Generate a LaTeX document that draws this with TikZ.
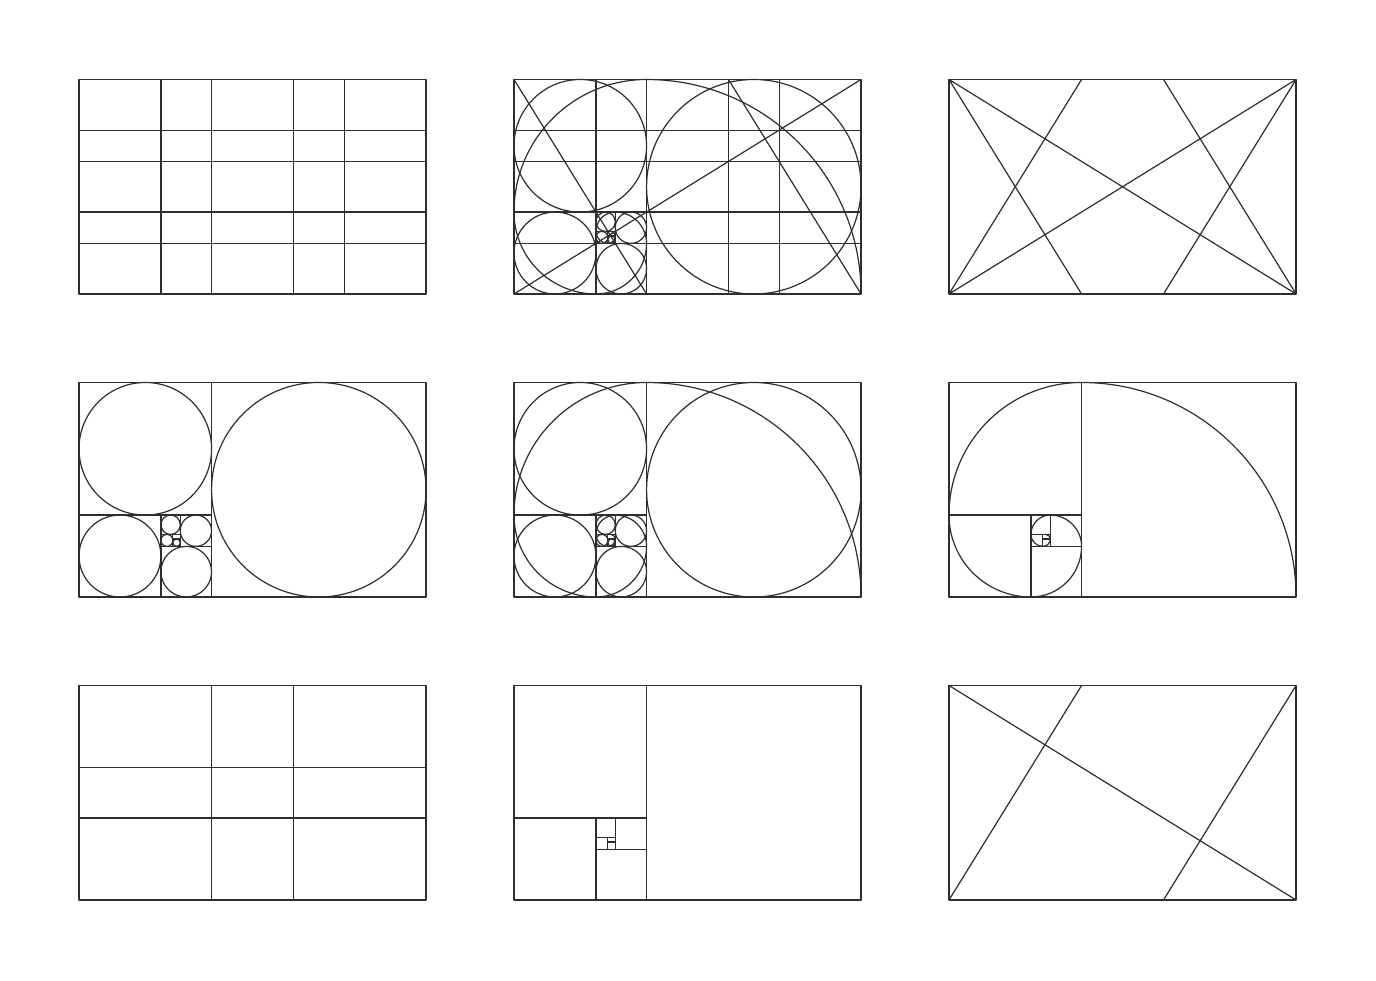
\documentclass[tikz,border=0pt]{standalone}
\newcommand{\GRframe}{\draw[frame] (0,0) rectangle (1.618034,1);}
\newcommand{\GRgrid}{\draw (0.381966,0)--(0.381966,1) (0.618034,0)--(0.618034,1) (1,0)--(1,1) (1.236068,0)--(1.236068,1)
  (0,0.236068)--(1.618034,0.236068) (0,0.381966)--(1.618034,0.381966) (0,0.618034)--(1.618034,0.618034) (0,0.763932)--(1.618034,0.763932);}
\newcommand{\GRsquares}{\draw (0.618034,0)--(0.618034,1) (0,0.381966)--(0.618034,0.381966)
  (0.381966,0)--(0.381966,0.381966) (0.381966,0.236068)--(0.618034,0.236068)
  (0.472136,0.236068)--(0.472136,0.381966) (0.381966,0.291796)--(0.472136,0.291796)
  (0.437694,0.236068)--(0.437694,0.291796) (0.437694,0.270510)--(0.472136,0.270510);}
\newcommand{\GRcircles}{\draw (1.118034,0.5) circle[radius=0.5] (0.309017,0.690983) circle[radius=0.309017]
  (0.190983,0.190983) circle[radius=0.190983] (0.5,0.118034) circle[radius=0.118034]
  (0.545085,0.309017) circle[radius=0.072949] (0.427051,0.336881) circle[radius=0.045085]
  (0.409830,0.263932) circle[radius=0.027864] (0.454915,0.253289) circle[radius=0.017221];}
\newcommand{\GRspiral}{\draw (1.618034,0) arc[start angle=0,end angle=90,radius=1]
  arc[start angle=90,end angle=180,radius=0.618034]
  arc[start angle=180,end angle=270,radius=0.381966]
  arc[start angle=270,end angle=360,radius=0.236068]
  arc[start angle=0,end angle=90,radius=0.145898]
  arc[start angle=90,end angle=180,radius=0.090170]
  arc[start angle=180,end angle=270,radius=0.055728]
  arc[start angle=270,end angle=360,radius=0.034442]
  arc[start angle=0,end angle=90,radius=0.021286];}
\begin{document}
\begin{tikzpicture}[line width=0.6pt, line join=round, draw=black!82,
  panel/.style={shift={#1}, x=107.25pt, y=107.25pt},
  frame/.style={line width=0.7pt}]
\fill[white] (0,0) rectangle (688pt,490pt);
\useasboundingbox (0,0) rectangle (688pt,490pt);
% row 1
\begin{scope}[panel={(39.5pt,343pt)}]
  \GRgrid \GRframe
\end{scope}
\begin{scope}[panel={(257pt,343pt)}]
  \GRgrid \GRsquares \GRcircles \GRspiral
  \draw (0,0)--(1.618034,1) (0,1)--(0.618034,0) (1,1)--(1.618034,0);
  \GRframe
\end{scope}
\begin{scope}[panel={(474.5pt,343pt)}]
  \draw (0,0)--(1.618034,1) (0,1)--(1.618034,0)
        (0,0)--(0.618034,1) (0,1)--(0.618034,0)
        (1.618034,0)--(1,1) (1.618034,1)--(1,0);
  \GRframe
\end{scope}
% row 2
\begin{scope}[panel={(39.5pt,191.5pt)}]
  \GRsquares \GRcircles \GRframe
\end{scope}
\begin{scope}[panel={(257pt,191.5pt)}]
  \GRsquares \GRcircles \GRspiral \GRframe
\end{scope}
\begin{scope}[panel={(474.5pt,191.5pt)}]
  \GRsquares \GRspiral \GRframe
\end{scope}
% row 3
\begin{scope}[panel={(39.5pt,40pt)}]
  \draw (0.618034,0)--(0.618034,1) (1,0)--(1,1) (0,0.381966)--(1.618034,0.381966) (0,0.618034)--(1.618034,0.618034);
  \GRframe
\end{scope}
\begin{scope}[panel={(257pt,40pt)}]
  \GRsquares \GRframe
\end{scope}
\begin{scope}[panel={(474.5pt,40pt)}]
  \draw (0,1)--(1.618034,0) (0,0)--(0.618034,1) (1,0)--(1.618034,1);
  \GRframe
\end{scope}
\end{tikzpicture}
\end{document}
